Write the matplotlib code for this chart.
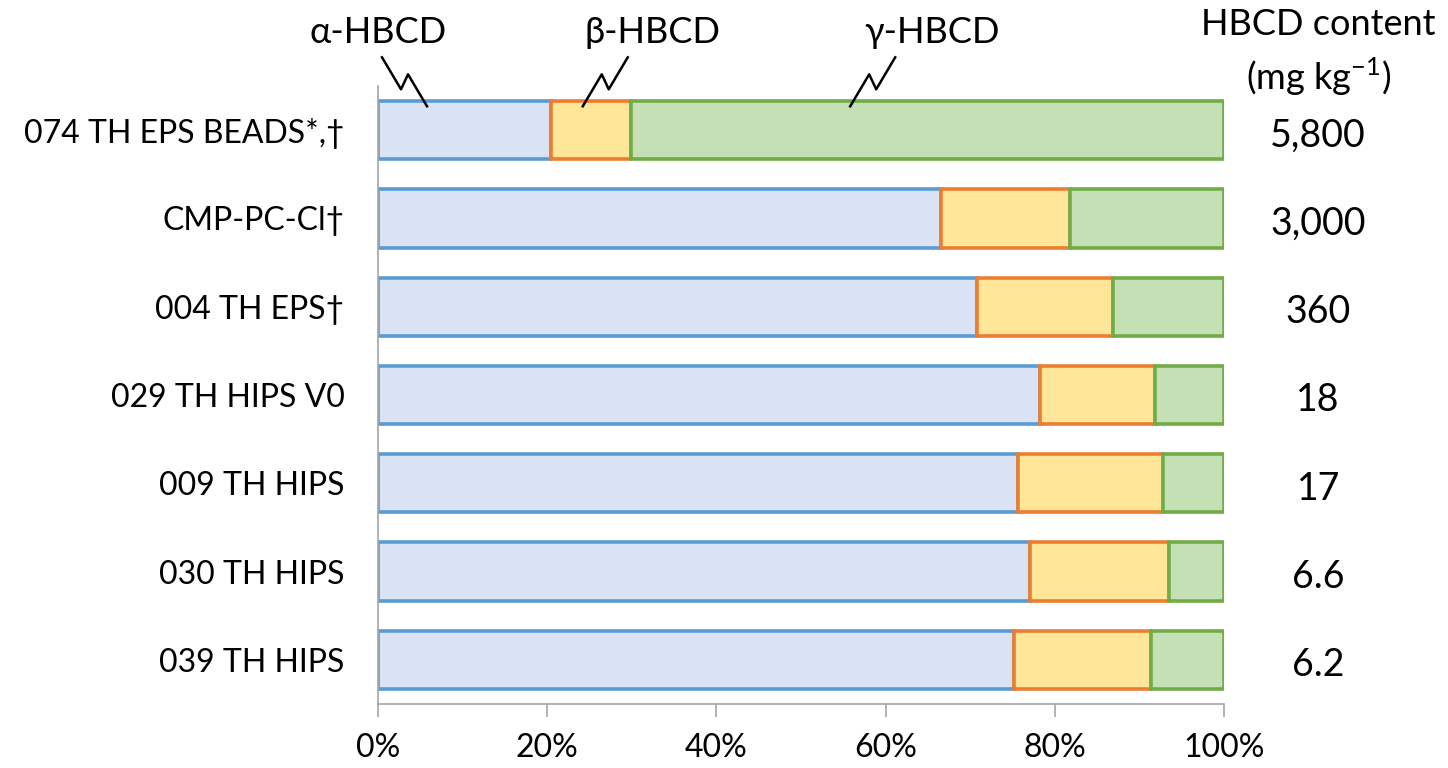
import numpy as np
import matplotlib
matplotlib.use("Agg")
from matplotlib import pyplot as plt
from matplotlib.lines import Line2D
from matplotlib.transforms import IdentityTransform

plt.rcParams['font.family'] = ['Lato', 'DejaVu Sans']
plt.rcParams['mathtext.fontset'] = 'custom'
plt.rcParams['mathtext.rm'] = 'Lato'

# data (percent of total HBCD)
samples = ['074 TH EPS BEADS*,\u2020', 'CMP-PC-Cl\u2020', '004 TH EPS\u2020',
           '029 TH HIPS V0', '009 TH HIPS', '030 TH HIPS', '039 TH HIPS']
alpha = np.array([20.4, 66.5, 70.8, 78.2, 75.6, 77.1, 75.1])
beta = np.array([9.5, 15.3, 16.0, 13.6, 17.2, 16.4, 16.2])
gamma = 100. - alpha - beta
content = ['5,800', '3,000', '360', '18', '17', '6.6', '6.2']

isomers = ['\u03b1-HBCD', '\u03b2-HBCD', '\u03b3-HBCD']
faces = ['#DAE3F3', '#FFE699', '#C5E0B4']
edges = ['#5B9BD5', '#ED7D31', '#70AD47']

fig = plt.figure(figsize=(14.48, 7.68), dpi=100)
ax = fig.add_axes([0.261, 0.0833, 0.5845, 0.8047])

y = np.arange(len(samples))
left = np.zeros(len(samples))
for vals, fc, ec in zip([alpha, beta, gamma], faces, edges):
    ax.barh(y, vals, left=left, height=0.66, color=fc, edgecolor=ec,
            linewidth=2.6, zorder=2)
    left = left + vals

ax.set_xlim(0, 100)
ax.set_ylim(len(samples) - 0.5, -0.5)
ax.set_yticks(y)
ax.set_yticklabels(samples, fontsize=23)
ax.tick_params(axis='y', length=0, pad=24)
ax.set_xticks(np.arange(0, 101, 20))
ax.set_xticklabels(['%d%%' % v for v in range(0, 101, 20)], fontsize=23)
ax.tick_params(axis='x', length=9, width=1.2, color='#A6A6A6', pad=12,
               direction='out')
for s in ['top', 'right']:
    ax.spines[s].set_visible(False)
for s in ['left', 'bottom']:
    ax.spines[s].set_color('#A6A6A6')
    ax.spines[s].set_linewidth(1.2)
    ax.spines[s].set_zorder(3)

# right-hand HBCD content column
for yi, c in zip(y, content):
    ax.text(111.1, yi + 0.06, c, ha='center', va='center', fontsize=27,
            clip_on=False)
ax.text(111.1, -1.2, 'HBCD content', ha='center', va='center',
        fontsize=26, clip_on=False)
ax.text(111.1, -0.6, '(mg kg$^{-1}$)', ha='center', va='center',
        fontsize=26, clip_on=False)

# isomer labels with squiggly leader lines
label_x = [0., 32.5, 65.5]
tip_x = [5.8, 24.2, 55.8]
side = [-1, 1, 1]
for name, lx, tx, sd in zip(isomers, label_x, tip_x, side):
    ax.text(lx, -1.11, name, ha='center', va='center', fontsize=26,
            clip_on=False)
    x0, y0 = ax.transData.transform((tx, -0.27))
    dx = np.array([0, 19, 26, 45]) * sd
    dy = np.array([0, 32, 17, 49])
    fig.add_artist(Line2D(x0 + dx, y0 + dy, color='black', lw=1.8,
                          transform=IdentityTransform()))

fig.savefig('out.png', dpi=100)
